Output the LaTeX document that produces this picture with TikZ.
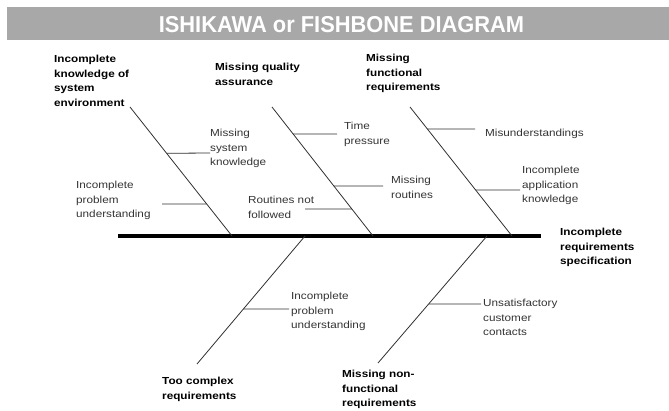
\documentclass[tikz,border=0pt]{standalone}
\usepackage{fontspec}
\setmainfont{Liberation Sans}[FakeStretch=1.15]
\newfontfamily\titlefont{Liberation Sans}[FakeStretch=0.95]
\usetikzlibrary{calc}
\definecolor{band}{HTML}{A8A8A8}
\definecolor{bonec}{HTML}{303030}
\definecolor{txt}{HTML}{333333}
\begin{document}
\begin{tikzpicture}[x=1pt,y=-1pt,
  lab/.style={anchor=base west,inner sep=0pt,align=left,text=txt,
    font=\fontsize{10.2}{14.7}\selectfont},
  blab/.style={anchor=base west,inner sep=0pt,align=left,text=black,
    font=\fontsize{10.2}{14.7}\selectfont\bfseries},
  bone/.style={draw=bonec,line width=0.8pt},
  twig/.style={draw=bonec,line width=0.8pt},
  spine/.style={draw=black,line width=3.4pt}]
\useasboundingbox (0,0) rectangle (669,411);
% title band
\fill[band] (7,7) rectangle (669,40);
\node[inner sep=0pt,text=white,font=\titlefont\bfseries\fontsize{23}{26}\selectfont] (title) at (341.5,24.5) {ISHIKAWA or FISHBONE DIAGRAM};
% spine
\coordinate (sL) at (118,236);
\node[blab] (head) at (560,264.9) {Incomplete\\requirements\\specification};
\coordinate (sR) at (541,236);
\draw[spine] (sL) -- (sR);
% bone coordinates
\coordinate (b1t) at (130,107); \coordinate (b1b) at (232,236);
\coordinate (b2t) at (272,107); \coordinate (b2b) at (373,236);
\coordinate (b3t) at (410,107); \coordinate (b3b) at (512,236);
\coordinate (b4t) at (305,236); \coordinate (b4b) at (197,364);
\coordinate (b5t) at (487,236); \coordinate (b5b) at (378,363);
\draw[bone] (b1t) -- (b1b);
\draw[bone] (b2t) -- (b2b);
\draw[bone] (b3t) -- (b3b);
\draw[bone] (b4t) -- (b4b);
\draw[bone] (b5t) -- (b5b);
% category labels
\node[blab] (c1) at (54,106.6) {Incomplete\\knowledge of\\system\\environment};
\node[blab] (c2) at (215,85.2) {Missing quality\\assurance};
\node[blab] (c3) at (366,90.9) {Missing\\functional\\requirements};
\node[blab] (c4) at (162,399.2) {Too complex\\requirements};
\node[blab] (c5) at (342,406.9) {Missing non-\\functional\\requirements};
% twig free ends
\coordinate (e1a) at (210,153);
\coordinate (e1b) at (162,204);
\coordinate (e2a) at (337,134);
\coordinate (e2b) at (383,186);
\coordinate (e2c) at (305,209);
\coordinate (e3a) at (475,129);
\coordinate (e3b) at (520,190);
\coordinate (e4a) at (289,309);
\coordinate (e5a) at (481,304);
% twigs
\draw[twig] ($(b1t)!0.359!(b1b)$) -- (e1a);
\draw[twig] (e1b) -- ($(b1t)!0.752!(b1b)$);
\draw[twig] ($(b2t)!0.209!(b2b)$) -- (e2a);
\draw[twig] ($(b2t)!0.612!(b2b)$) -- (e2b);
\draw[twig] (e2c) -- ($(b2t)!0.791!(b2b)$);
\draw[twig] ($(b3t)!0.171!(b3b)$) -- (e3a);
\draw[twig] ($(b3t)!0.643!(b3b)$) -- (e3b);
\draw[twig] ($(b4t)!0.570!(b4b)$) -- (e4a);
\draw[twig] ($(b5t)!0.536!(b5b)$) -- (e5a);
% cause labels
\node[lab] (t1a) at (210,165.9) {Missing\\system\\knowledge};
\node[lab] (t1b) at (76,217.9) {Incomplete\\problem\\understanding};
\node[lab] (t2a) at (344,144.2) {Time\\pressure};
\node[lab] (t2b) at (391,198.2) {Missing\\routines};
\node[lab] (t2c) at (248,218.2) {Routines not\\followed};
\node[lab] (t3a) at (485,136.5) {Misunderstandings};
\node[lab] (t3b) at (522,202.9) {Incomplete\\application\\knowledge};
\node[lab] (t4a) at (291,328.9) {Incomplete\\problem\\understanding};
\node[lab] (t5a) at (483,335.9) {Unsatisfactory\\customer\\contacts};
\end{tikzpicture}
\end{document}
